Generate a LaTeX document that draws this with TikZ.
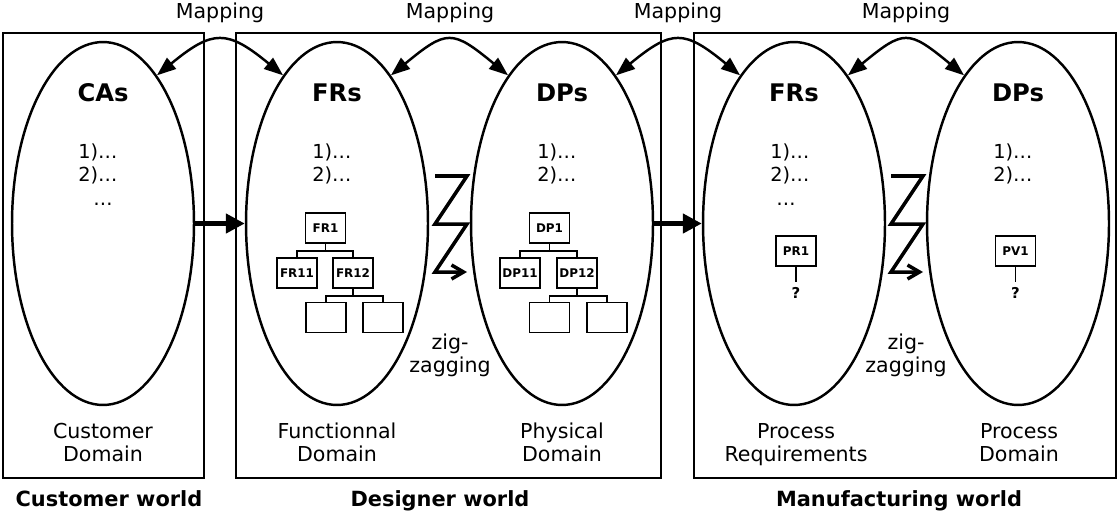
\documentclass[tikz,border=0pt]{standalone}
\usepackage{fontspec}
\setmainfont{DejaVu Sans}
\usetikzlibrary{shapes.geometric,arrows.meta}
\begin{document}
\begin{tikzpicture}[x=0.02cm,y=-0.02cm,
  world/.style={draw, line width=0.9pt, inner sep=0pt},
  domell/.style={ellipse, draw, line width=1.4pt, minimum width=3.64cm, minimum height=7.26cm, inner sep=0pt},
  txt/.style={font=\fontsize{11.7}{14}\selectfont, inner sep=0pt, anchor=base},
  hd/.style={font=\bfseries\fontsize{13.8}{16}\selectfont, inner sep=0pt, anchor=base},
  wlabel/.style={font=\bfseries\fontsize{11.9}{14}\selectfont, inner sep=0pt, anchor=base},
  itm/.style={font=\fontsize{11}{14}\selectfont, inner sep=0pt, anchor=base west},
  dots/.style={font=\fontsize{11}{14}\selectfont, inner sep=0pt, anchor=base},
  tbox/.style={draw, line width=1.1pt, minimum width=0.8cm, minimum height=0.6cm, inner sep=0pt, font=\bfseries\fontsize{6.8}{8}\selectfont},
  qmark/.style={font=\bfseries\fontsize{8.5}{10}\selectfont, inner sep=3pt, anchor=north},
  tline/.style={line width=1.1pt},
  maparrow/.style={line width=1.4pt, {Triangle[length=0.38cm,width=0.28cm]}-{Triangle[length=0.38cm,width=0.28cm]}},
  bigarrow/.style={line width=2.6pt, -{Triangle[length=0.38cm,width=0.38cm]}},
  zz/.style={line width=2pt, -{Straight Barb[length=0.24cm,width=0.28cm]}},
]
\useasboundingbox (0,0) rectangle (1118,511);

% world boxes
\node[world, minimum width=4.02cm, minimum height=8.9cm] (box1) at (103.5,255.5) {};
\node[world, minimum width=8.5cm, minimum height=8.9cm] (box2) at (448.5,255.5) {};
\node[world, minimum width=8.44cm, minimum height=8.9cm] (box3) at (905,255.5) {};

% domains
\node[domell] (e1) at (103,223.5) {};
\node[domell] (e2) at (337,223.5) {};
\node[domell] (e3) at (562,223.5) {};
\node[domell] (e4) at (794,223.5) {};
\node[domell] (e5) at (1018,223.5) {};

% headings
\node[hd] (h1) at (103,101) {CAs};
\node[hd] (h2) at (337,101) {FRs};
\node[hd] (h3) at (562,101) {DPs};
\node[hd] (h4) at (794,101) {FRs};
\node[hd] (h5) at (1018,101) {DPs};

% items
\node[itm] (i1a) at (78,158) {1)…};
\node[itm] (i1b) at (78,181.5) {2)…};
\node[dots] (i1c) at (103,205) {…};
\node[itm] (i2a) at (312,158) {1)…};
\node[itm] (i2b) at (312,181.5) {2)…};
\node[itm] (i3a) at (537,158) {1)…};
\node[itm] (i3b) at (537,181.5) {2)…};
\node[itm] (i4a) at (770,158) {1)…};
\node[itm] (i4b) at (770,181.5) {2)…};
\node[dots] (i4c) at (786,205) {…};
\node[itm] (i5a) at (993,158) {1)…};
\node[itm] (i5b) at (993,181.5) {2)…};

% FR tree
\coordinate (busA) at (0,251);
\coordinate (busB) at (0,296);
\node[tbox] (fr1) at (325.5,228) {FR1};
\node[tbox] (fr11) at (297,273) {FR11};
\node[tbox] (fr12) at (353,273) {FR12};
\node[tbox] (frl1) at (326,317.5) {};
\node[tbox] (frl2) at (383,317.5) {};
\draw[tline] (fr1.south) -- (fr1.south |- busA);
\draw[tline] (fr11.north) |- (fr12.north |- busA) -- (fr12.north);
\draw[tline] (fr12.south) -- (fr12.south |- busB);
\draw[tline] (frl1.north) |- (frl2.north |- busB) -- (frl2.north);

% DP tree
\node[tbox] (dp1) at (549.5,228) {DP1};
\node[tbox] (dp11) at (520,273) {DP11};
\node[tbox] (dp12) at (577,273) {DP12};
\node[tbox] (dpl1) at (549.5,317.5) {};
\node[tbox] (dpl2) at (607,317.5) {};
\draw[tline] (dp1.south) -- (dp1.south |- busA);
\draw[tline] (dp11.north) |- (dp12.north |- busA) -- (dp12.north);
\draw[tline] (dp12.south) -- (dp12.south |- busB);
\draw[tline] (dpl1.north) |- (dpl2.north |- busB) -- (dpl2.north);

% process boxes
\node[tbox] (pr1) at (796,251) {PR1};
\node[qmark] (q1) at (796,282) {?};
\draw[tline] (pr1.south) -- (q1.north);
\node[tbox] (pv1) at (1015.5,251) {PV1};
\node[qmark] (q2) at (1015.5,282) {?};
\draw[tline] (pv1.south) -- (q2.north);

% zigzags
\draw[zz] (435,176) -- (467,176) -- (435,224) -- (467,224) -- (435,272) -- (467,272);
\draw[zz] (891,176) -- (923,176) -- (891,224) -- (923,224) -- (891,272) -- (923,272);
\node[txt] (zg1a) at (450,349) {zig-};
\node[txt] (zg1b) at (450,372.5) {zagging};
\node[txt] (zg2a) at (906,349) {zig-};
\node[txt] (zg2b) at (906,372.5) {zagging};

% mapping arrows
\draw[maparrow] (e1.70) .. controls +(56,-46) and +(-56,-46) .. (e2.110);
\draw[maparrow] (e2.70) .. controls +(56,-46) and +(-56,-46) .. (e3.110);
\draw[maparrow] (e3.70) .. controls +(56,-46) and +(-56,-46) .. (e4.110);
\draw[maparrow] (e4.70) .. controls +(56,-46) and +(-56,-46) .. (e5.110);
\node[txt] (m1) at (220,18.5) {Mapping};
\node[txt] (m2) at (450,18.5) {Mapping};
\node[txt] (m3) at (678,18.5) {Mapping};
\node[txt] (m4) at (906,18.5) {Mapping};

% transfer arrows
\draw[bigarrow] (e1.east) -- (e2.west);
\draw[bigarrow] (e3.east) -- (e4.west);

% domain labels
\node[txt] (d1a) at (103,438.3) {Customer};
\node[txt] (d1b) at (103,461.7) {Domain};
\node[txt] (d2a) at (337,438.3) {Functionnal};
\node[txt] (d2b) at (337,461.7) {Domain};
\node[txt] (d3a) at (562,438.3) {Physical};
\node[txt] (d3b) at (562,461.7) {Domain};
\node[txt] (d4a) at (796,438.3) {Process};
\node[txt] (d4b) at (796,461.7) {Requirements};
\node[txt] (d5a) at (1019,438.3) {Process};
\node[txt] (d5b) at (1019,461.7) {Domain};

% world labels
\node[wlabel] (w1) at (109,506.5) {Customer world};
\node[wlabel] (w2) at (440,506.5) {Designer world};
\node[wlabel] (w3) at (899,506.5) {Manufacturing world};
\end{tikzpicture}
\end{document}
